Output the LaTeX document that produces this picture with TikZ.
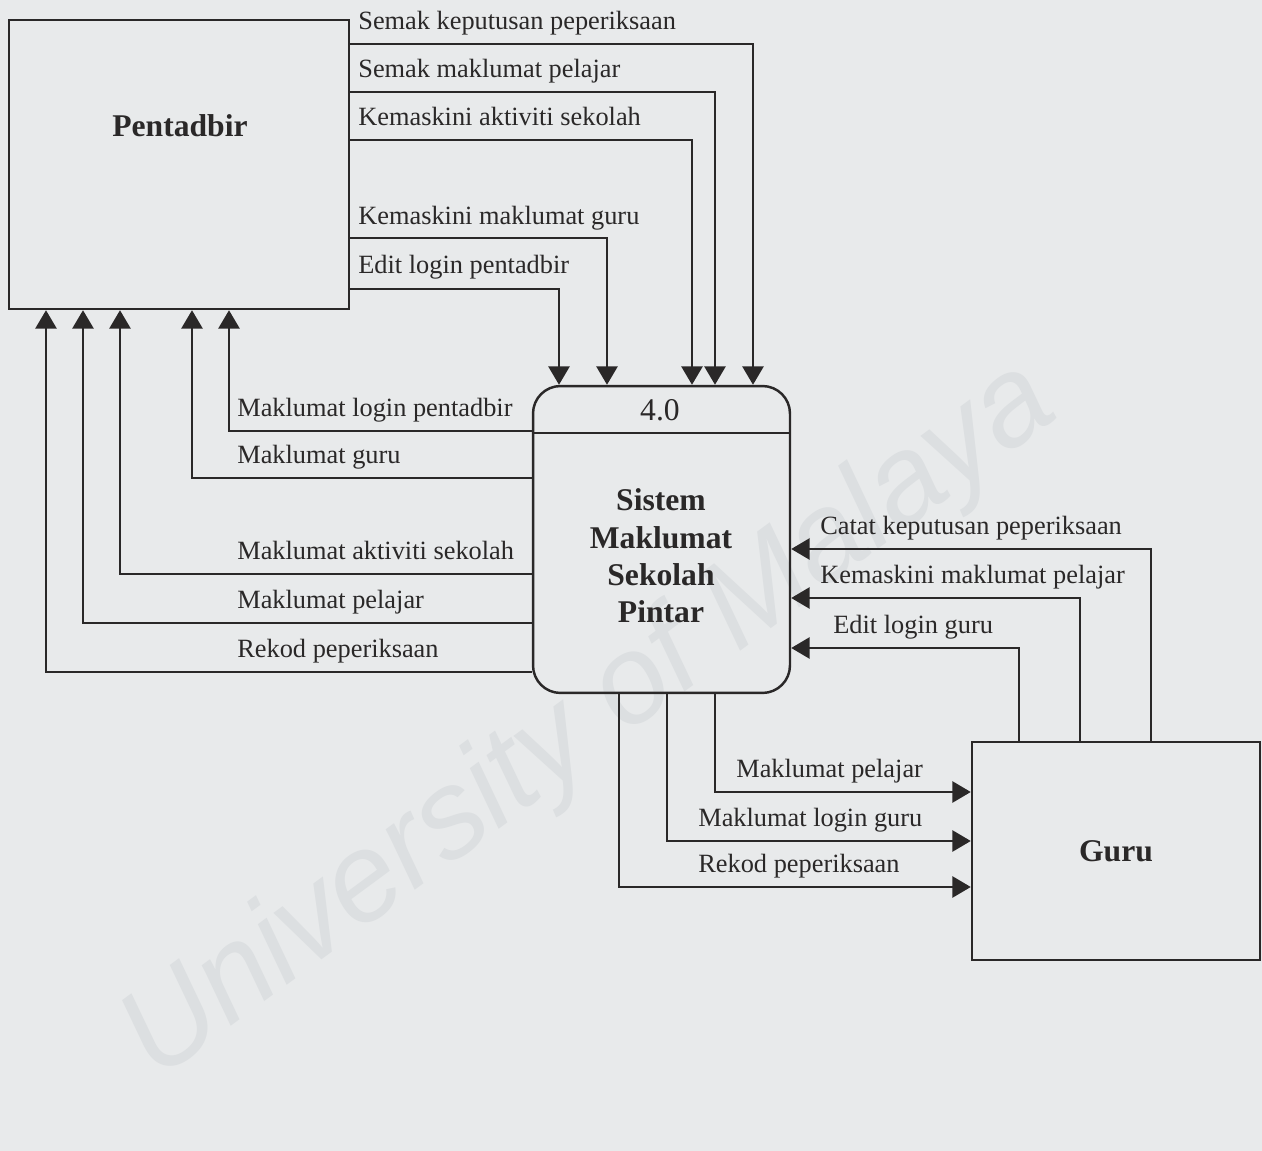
\documentclass[tikz,border=0pt]{standalone}
\usepackage{fontspec}
\setmainfont{Liberation Serif}
\newfontfamily\wmfont{Liberation Sans}
\usetikzlibrary{arrows.meta}
\definecolor{bgc}{HTML}{E8EAEB}
\definecolor{ink}{HTML}{2A2828}
\definecolor{wm}{HTML}{DCDFE1}
\begin{document}
\begin{tikzpicture}[x=0.02cm,y=-0.02cm,
 ent/.style={draw=ink,line width=1.4pt,rectangle,inner sep=0pt},
 flow/.style={draw=ink,line width=1.4pt,-{Triangle[width=12pt,length=10.5pt]}},
 lbl/.style={anchor=base west,inner sep=0pt,text=ink,font=\fontsize{15}{18}\selectfont},
 big/.style={text=ink,font=\fontsize{18}{21.3}\selectfont\bfseries,align=center,inner sep=0pt}]
\fill[bgc] (0,0) rectangle (1262,1151);
\useasboundingbox (0,0) rectangle (1262,1151);
% watermark
\node[text=wm,rotate=36.4,inner sep=0pt,font=\wmfont\itshape\fontsize{71}{80}\selectfont] (wmark) at (590,722) {University of Malaya};
% entities and process
\node[ent,minimum width=6.8cm,minimum height=5.78cm] (pent) at (179,164.5) {};
\node[big] (pentlbl) at (180,126) {Pentadbir};
\node[ent,rounded corners=0.55cm,minimum width=5.14cm,minimum height=6.14cm] (proc) at (661.5,539.5) {};
\draw[draw=ink,line width=1.4pt] (proc.west |- 0,433) -- (proc.east |- 0,433);
\node[text=ink,inner sep=0pt,font=\fontsize{18}{21}\selectfont] (procid) at (660,410) {4.0};
\node[big] (procname) at (661,556) {Sistem\\Maklumat\\Sekolah\\Pintar};
\node[ent,minimum width=5.76cm,minimum height=4.36cm,font=\fontsize{18}{21}\selectfont\bfseries,text=ink] (guru) at (1116,851) {Guru};
% Pentadbir -> process
\draw[flow] (pent.east |- 0,44) -| (proc.north -| 753,0);
\draw[flow] (pent.east |- 0,92) -| (proc.north -| 715,0);
\draw[flow] (pent.east |- 0,140) -| (proc.north -| 692,0);
\draw[flow] (pent.east |- 0,238) -| (proc.north -| 607,0);
\draw[flow] (pent.east |- 0,289) -| (proc.north -| 559,0);
\node[lbl] (t1) at (358,30) {Semak keputusan peperiksaan};
\node[lbl] (t2) at (358,78) {Semak maklumat pelajar};
\node[lbl] (t3) at (358,126) {Kemaskini aktiviti sekolah};
\node[lbl] (t4) at (358,225) {Kemaskini maklumat guru};
\node[lbl] (t5) at (358,274) {Edit login pentadbir};
% process -> Pentadbir
\draw[flow] (proc.west |- 0,431) -| (pent.south -| 229,0);
\draw[flow] (proc.west |- 0,478) -| (pent.south -| 192,0);
\draw[flow] (proc.west |- 0,574) -| (pent.south -| 120,0);
\draw[flow] (proc.west |- 0,623) -| (pent.south -| 83,0);
\draw[flow] (proc.west |- 0,672) -| (pent.south -| 46,0);
\node[lbl] (l1) at (237,417) {Maklumat login pentadbir};
\node[lbl] (l2) at (237,464) {Maklumat guru};
\node[lbl] (l3) at (237,560) {Maklumat aktiviti sekolah};
\node[lbl] (l4) at (237,609) {Maklumat pelajar};
\node[lbl] (l5) at (237,658) {Rekod peperiksaan};
% Guru -> process
\draw[flow] (guru.north -| 1151,0) |- (proc.east |- 0,549);
\draw[flow] (guru.north -| 1080,0) |- (proc.east |- 0,598);
\draw[flow] (guru.north -| 1019,0) |- (proc.east |- 0,648);
\node[lbl] (r1) at (820,535) {Catat keputusan peperiksaan};
\node[lbl] (r2) at (820,584) {Kemaskini maklumat pelajar};
\node[lbl] (r3) at (833,634) {Edit login guru};
% process -> Guru
\draw[flow] (proc.south -| 715,0) |- (guru.west |- 0,792);
\draw[flow] (proc.south -| 667,0) |- (guru.west |- 0,841);
\draw[flow] (proc.south -| 619,0) |- (guru.west |- 0,887);
\node[lbl] (b1) at (736,778) {Maklumat pelajar};
\node[lbl] (b2) at (698,827) {Maklumat login guru};
\node[lbl] (b3) at (698,873) {Rekod peperiksaan};
\end{tikzpicture}
\end{document}
